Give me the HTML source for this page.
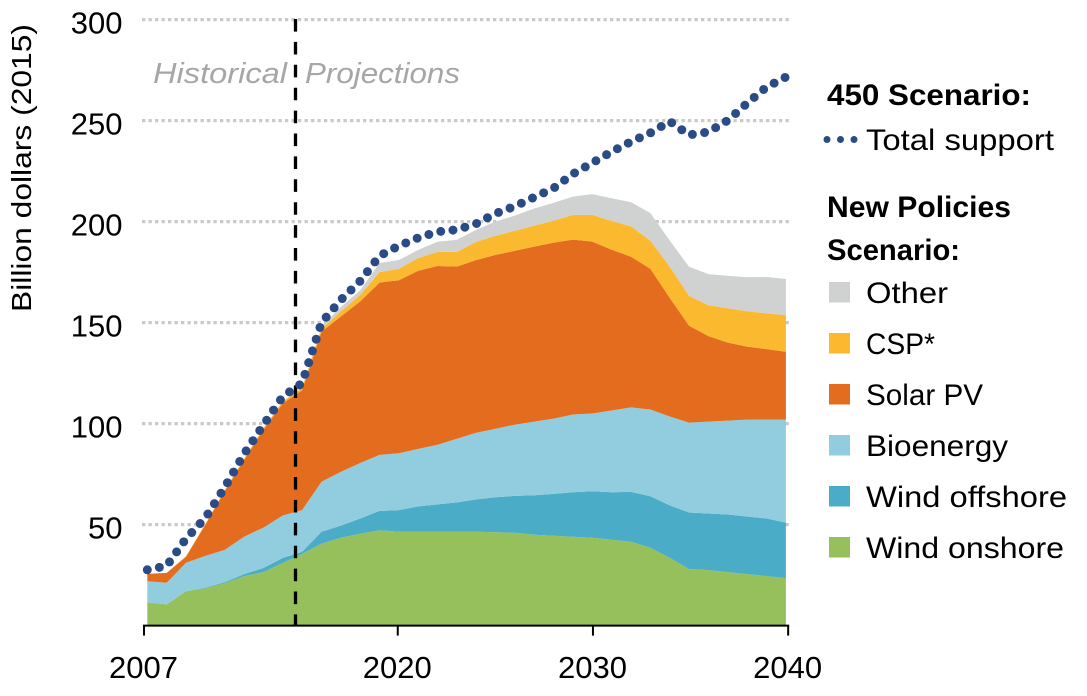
<!DOCTYPE html>
<html lang="en">
<head>
<meta charset="utf-8">
<title>Renewable support chart</title>
<style>
html,body{margin:0;padding:0;background:#fff;}
svg{display:block;font-family:"Liberation Sans",sans-serif;}
</style>
</head>
<body>
<svg id="chart" width="1087" height="696" viewBox="0 0 1087 696" xmlns="http://www.w3.org/2000/svg">
  <g id="grid"></g>
  <g id="areas"></g>
  <g id="axes"></g>
  <line x1="295.5" y1="19" x2="295.5" y2="626" stroke="#000" stroke-width="3.3" stroke-dasharray="12.6 10.3"/>
  <text x="153" y="83" font-size="29" font-style="italic" fill="#a6a6a6" textLength="134" lengthAdjust="spacingAndGlyphs">Historical</text>
  <text x="305" y="83" font-size="29" font-style="italic" fill="#a6a6a6" textLength="155" lengthAdjust="spacingAndGlyphs">Projections</text>
  <path id="totalLine" fill="none" stroke="#2a4b85" stroke-width="9" stroke-linecap="round" stroke-linejoin="round" stroke-dasharray="0 12.3"/>
  <text transform="translate(31,312) rotate(-90)" font-size="28" fill="#000" textLength="288" lengthAdjust="spacingAndGlyphs">Billion dollars (2015)</text>

  <g font-size="30" fill="#000">
    <text x="827" y="105" font-weight="700" textLength="204" lengthAdjust="spacingAndGlyphs">450 Scenario:</text>
    <line x1="827" y1="139.5" x2="855" y2="139.5" stroke="#2a4b85" stroke-width="7" stroke-linecap="round" stroke-dasharray="0 13.5"/>
    <text x="866" y="150" textLength="188" lengthAdjust="spacingAndGlyphs">Total support</text>
    <text x="827" y="217" font-weight="700" textLength="184" lengthAdjust="spacingAndGlyphs">New Policies</text>
    <text x="827" y="260" font-weight="700" textLength="133" lengthAdjust="spacingAndGlyphs">Scenario:</text>
    <rect x="829" y="282" width="21" height="20.5" fill="#d0d2d2"/>
    <text x="866" y="303" textLength="82" lengthAdjust="spacingAndGlyphs">Other</text>
    <rect x="829" y="333" width="21" height="20.5" fill="#fbb92f"/>
    <text x="866" y="354" textLength="69" lengthAdjust="spacingAndGlyphs">CSP*</text>
    <rect x="829" y="384" width="21" height="20.5" fill="#e46c1e"/>
    <text x="866" y="405" textLength="117" lengthAdjust="spacingAndGlyphs">Solar PV</text>
    <rect x="829" y="435" width="21" height="20.5" fill="#92cddf"/>
    <text x="866" y="456" textLength="142" lengthAdjust="spacingAndGlyphs">Bioenergy</text>
    <rect x="829" y="486" width="21" height="20.5" fill="#4bacc8"/>
    <text x="866" y="507" textLength="201" lengthAdjust="spacingAndGlyphs">Wind offshore</text>
    <rect x="829" y="537" width="21" height="20.5" fill="#95c05b"/>
    <text x="866" y="558" textLength="198" lengthAdjust="spacingAndGlyphs">Wind onshore</text>
  </g>
</svg>
<script>
const years = [2007,2008,2009,2010,2011,2012,2013,2014,2015,2016,2017,2018,2019,2020,2021,2022,2023,2024,2025,2026,2027,2028,2029,2030,2031,2032,2033,2034,2035,2036,2037,2038,2039,2040];
const windOnshore = [11.5,10.5,17,18.5,21,24.5,26.5,31,35.5,40.5,43.5,45.5,47.2,46.5,46.5,46.5,46.5,46.5,46.2,46,45,44.5,44,43.5,42.5,41.5,38.5,33.5,28,27.5,26.5,25.5,24.5,23.5];
const windOffshore = [0,0,0,0.3,0.5,1,2,2.5,1,6,6,7.5,9.6,10.7,12.5,13.5,14.5,16,17.3,18.2,19.5,20.7,22,23,23.5,24.7,25.5,26,28,28,28.5,28.5,28.5,27.5];
const bioenergy = [10.5,10.7,14.1,15.7,16,18.5,20,21,20.7,24.7,26.6,27.5,27.7,28.1,28.5,29.5,31.5,33,34,35.3,36.5,37.3,38.5,38.5,40.5,41.8,43,44,44.5,45.5,46.5,48,49,51];
const solarPV = [3.6,4.9,3,15.5,29,38,48.5,55.5,59.3,74.3,76.9,80,85.3,85.7,88.2,88.5,85.2,85.5,86,86.1,86.6,87.1,86.6,85.1,79.6,74.6,69.6,58.7,47.9,42.3,38.6,36.1,34.9,33.6];
const csp = [0,0,0.2,0.4,0.5,0.6,0.7,1,1.2,1.5,2.5,3.2,5.2,5.6,6.3,7,7.3,9,9.5,9.9,10.4,10.9,12.2,13.2,14.2,15,14,15.4,14.8,15.3,17,17.5,17.7,18];
const other = [0,0,0,0,0,0,0,0,0,1,2.2,2.3,4.5,4.4,4,5,6,6,7,7.5,8.5,8.8,9.1,10.3,11.3,12,13.6,13,14.4,15.4,16,16.9,18,18];
const totalSupport = [27.6,29.6,43,53.3,68.4,85,99.3,113.4,120,150,161.2,170.6,183,188,192,195,196,199,204,207.6,212.1,216.6,223.6,229.1,234.6,239.6,243.9,249.6,242.9,244.4,250.1,258.6,266.6,271.6];
const yTicks = [50,100,150,200,250,300];
const xTickYears = [2007,2020,2030,2040];

const NS = 'http://www.w3.org/2000/svg';
function yScale(v){ return 625.6 - 2.02 * v; }
function xScale(year){ return 147.3 + 19.35 * (year - 2007); }
function xTickScale(year){ return 144 + 19.52 * (year - 2007); }
function make(tag, parent, attrs){
  const el = document.createElementNS(NS, tag);
  for (const k in attrs) el.setAttribute(k, attrs[k]);
  parent.appendChild(el);
  return el;
}

const gridG = document.getElementById('grid');
yTicks.forEach(function(t){
  const line = make('line', gridG, {x1:142, x2:791, y1:yScale(t), y2:yScale(t), stroke:'#c9c9c9', 'stroke-width':3.2, 'stroke-dasharray':'3.3 3.2'});
  
  
});

const layers = [
  {name:'wind-onshore', values:windOnshore, color:'#95c05b'},
  {name:'wind-offshore', values:windOffshore, color:'#4bacc8'},
  {name:'bioenergy', values:bioenergy, color:'#92cddf'},
  {name:'solar-pv', values:solarPV, color:'#e46c1e'},
  {name:'csp', values:csp, color:'#fbb92f'},
  {name:'other', values:other, color:'#d0d2d2'}
];
const areasG = document.getElementById('areas');
const base = years.map(function(){ return 0; });
layers.forEach(function(layer){
  const lower = base.slice();
  layer.values.forEach(function(v, i){ base[i] += v; });
  const upperPts = years.map(function(y, i){ return xScale(y).toFixed(1) + ',' + yScale(base[i]).toFixed(1); });
  const lowerPts = years.map(function(y, i){ return xScale(y).toFixed(1) + ',' + yScale(lower[i]).toFixed(1); }).reverse();
  const area = make('polygon', areasG, {points: upperPts.concat(lowerPts).join(' '), fill: layer.color});
  
  
});

const axesG = document.getElementById('axes');
const xAxisLine = make('line', axesG, {x1:xTickScale(2007)-1, x2:xTickScale(2040)+1, y1:yScale(0), y2:yScale(0), stroke:'#000', 'stroke-width':2});


xTickYears.forEach(function(yr){
  const tick = make('line', axesG, {x1:xTickScale(yr), x2:xTickScale(yr), y1:yScale(0), y2:yScale(0)+10, stroke:'#000', 'stroke-width':2});
  
  
  const lab = make('text', axesG, {x:xTickScale(yr)-0.5, y:678, 'text-anchor':'middle', 'font-size':31, fill:'#000'});
  
  
  lab.textContent = yr;
});
yTicks.forEach(function(t){
  const lab = make('text', axesG, {x:122.5, y:yScale(t)+14, 'text-anchor':'end', 'font-size':31, fill:'#000'});
  
  
  lab.textContent = t;
});

const d = years.map(function(y, i){ return (i ? 'L' : 'M') + xScale(y).toFixed(1) + ' ' + yScale(totalSupport[i]).toFixed(1); }).join(' ');
document.getElementById('totalLine').setAttribute('d', d);
</script>
</body>
</html>
